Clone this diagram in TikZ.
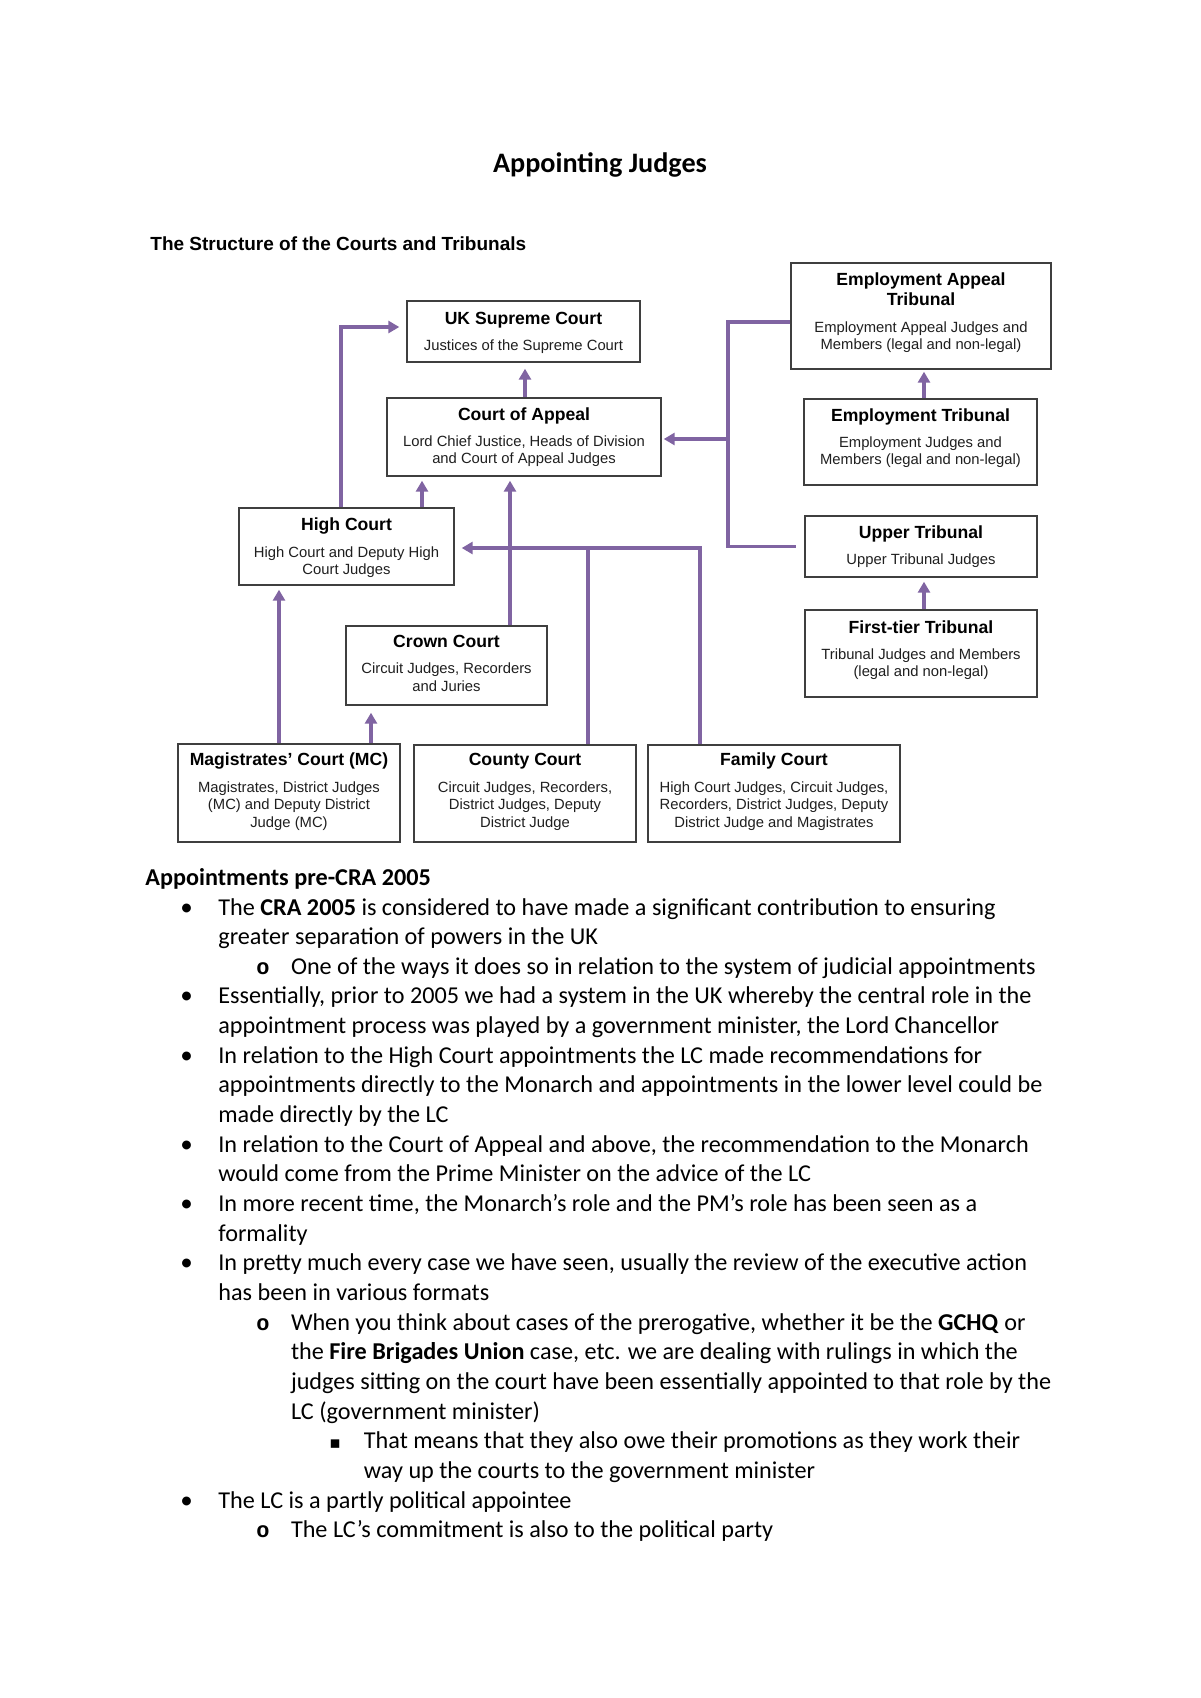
\documentclass[tikz,border=0pt]{standalone}
\usepackage{fontspec}
\setmainfont{Carlito}
\newfontfamily\arialf{Liberation Sans}
\newfontfamily\courf{Liberation Mono}
\newfontfamily\dejaf{DejaVu Sans}
\usetikzlibrary{arrows.meta,fit}
\definecolor{pur}{HTML}{8064A2}
\definecolor{boxc}{HTML}{3F3F3F}
\newcommand\bodyfont{\fontsize{12.1}{14.8}\selectfont}
\begin{document}
\begin{tikzpicture}[x=0.5pt,y=-0.5pt,
  box/.style={draw=boxc, line width=0.7pt, inner sep=0pt},
  ttl/.style={anchor=base, inner sep=0pt, font=\arialf\bfseries\fontsize{8.8}{10}\selectfont},
  sub/.style={anchor=base, inner sep=0pt, text=black!88, font=\arialf\fontsize{7.4}{8.6}\selectfont},
  conn/.style={draw=pur, line width=1.9pt},
  arr/.style={conn, -{Triangle[width=6pt,length=5.5pt]}},
  body/.style={anchor=base west, inner sep=0pt, font=\bodyfont},
  blta/.style={anchor=base west, inner sep=0pt, font=\fontsize{12.5}{14}\selectfont},
  bltb/.style={anchor=base west, inner sep=0pt, font=\courf\bfseries\fontsize{11}{14}\selectfont},
  bltc/.style={anchor=base west, inner sep=0pt, font=\dejaf\fontsize{8.5}{14}\selectfont}
]
\fill[white] (0,0) rectangle (1200,1698);
\useasboundingbox (0,0) rectangle (1200,1698);

% page title
\node[anchor=base, inner sep=0pt, font=\bfseries\fontsize{14.1}{16}\selectfont] (ptitle) at (600,172) {Appointing Judges};
\node[anchor=base west, inner sep=0pt, font=\arialf\bfseries\fontsize{9.5}{11}\selectfont] (dtitle) at (150,250) {The Structure of the Courts and Tribunals};

% boxes
\node[box, fit={(407,301) (640,362)}] (uksc) {};
\node[box, fit={(387,398) (661,476)}] (coa) {};
\node[box, fit={(239,508) (454,585)}] (hc) {};
\node[box, fit={(346,626) (547,705)}] (crown) {};
\node[box, fit={(178,744) (400,842)}] (mc) {};
\node[box, fit={(414,745) (636,842)}] (county) {};
\node[box, fit={(648,745) (900,842)}] (family) {};
\node[box, fit={(791,263) (1051,369)}] (eat) {};
\node[box, fit={(804,399) (1037,485)}] (et) {};
\node[box, fit={(805,516) (1037,577)}] (ut) {};
\node[box, fit={(805,610) (1037,697)}] (ftt) {};

% connectors
\draw[arr, shorten >=3.5pt] (341,0 |- hc.north) |- (uksc.west |- 0,327);
\draw[arr, shorten >=3pt] (coa.north -| 525,0) -- (uksc.south -| 525,0);
\draw[arr, shorten >=2pt] (hc.north -| 422,0) -- (coa.south -| 422,0);
\draw[arr, shorten >=2pt] (crown.north -| 510,0) -- (coa.south -| 510,0);
\draw[arr, shorten >=3.5pt] (county.north -| 588,0) |- (hc.east |- 0,548);
\coordinate (jc) at (588,548);
\draw[conn] (family.north -| 700,0) |- (jc);
\draw[arr, shorten >=2pt] (mc.north -| 279,0) -- (hc.south -| 279,0);
\draw[arr, shorten >=3.5pt] (mc.north -| 371,0) -- (crown.south -| 371,0);
\coordinate (tj) at (728,439);
\draw[conn] (eat.west |- 0,322) -| (tj) |- ([xshift=-4pt]ut.west);
\draw[arr, shorten >=1pt] (tj) -- (tj -| coa.east);
\draw[arr, shorten >=1pt] (et.north -| 924,0) -- (eat.south -| 924,0);
\draw[arr, shorten >=2pt] (ftt.north -| 924,0) -- (ut.south -| 924,0);

% box texts
\node[ttl] (uksc1) at (523.5,324) {UK Supreme Court};
\node[sub] (uksc2) at (523.5,350) {Justices of the Supreme Court};
\node[ttl] (coa1) at (524,420) {Court of Appeal};
\node[sub] (coa2) at (524,446) {Lord Chief Justice, Heads of Division};
\node[sub] (coa3) at (524,463) {and Court of Appeal Judges};
\node[ttl] (hc1) at (346.5,530) {High Court};
\node[sub] (hc2) at (346.5,557) {High Court and Deputy High};
\node[sub] (hc3) at (346.5,574) {Court Judges};
\node[ttl] (cr1) at (446.5,647) {Crown Court};
\node[sub] (cr2) at (446.5,673) {Circuit Judges, Recorders};
\node[sub] (cr3) at (446.5,691) {and Juries};
\node[ttl] (mc1) at (289,765) {Magistrates’ Court (MC)};
\node[sub] (mc2) at (289,792) {Magistrates, District Judges};
\node[sub] (mc3) at (289,809.5) {(MC) and Deputy District};
\node[sub] (mc4) at (289,827) {Judge (MC)};
\node[ttl] (cc1) at (525,765) {County Court};
\node[sub] (cc2) at (525,792) {Circuit Judges, Recorders,};
\node[sub] (cc3) at (525,809.5) {District Judges, Deputy};
\node[sub] (cc4) at (525,827) {District Judge};
\node[ttl] (fc1) at (774,765) {Family Court};
\node[sub] (fc2) at (774,792) {High Court Judges, Circuit Judges,};
\node[sub] (fc3) at (774,809.5) {Recorders, District Judges, Deputy};
\node[sub] (fc4) at (774,827) {District Judge and Magistrates};
\node[ttl] (eat1) at (921,285) {Employment Appeal};
\node[ttl] (eat2) at (921,305) {Tribunal};
\node[sub] (eat3) at (921,332) {Employment Appeal Judges and};
\node[sub] (eat4) at (921,349) {Members (legal and non-legal)};
\node[ttl] (et1) at (920.5,421) {Employment Tribunal};
\node[sub] (et2) at (920.5,447) {Employment Judges and};
\node[sub] (et3) at (920.5,464) {Members (legal and non-legal)};
\node[ttl] (ut1) at (921,538) {Upper Tribunal};
\node[sub] (ut2) at (921,564) {Upper Tribunal Judges};
\node[ttl] (ft1) at (921,633) {First-tier Tribunal};
\node[sub] (ft2) at (921,659) {Tribunal Judges and Members};
\node[sub] (ft3) at (921,676) {(legal and non-legal)};

% body text
\node[body, font=\bodyfont\bfseries] (h1) at (145,885.35) {Appointments pre-CRA 2005};
\node[blta] (bu0) at (180,915) {•};
\node[body] (l0) at (218,915) {The \textbf{CRA 2005} is considered to have made a significant contribution to ensuring};
\node[body] (l1) at (218,944.65) {greater separation of powers in the UK};
\node[bltb] (bu2) at (256,974.3) {o};
\node[body] (l2) at (290.6,974.3) {One of the ways it does so in relation to the system of judicial appointments};
\node[blta] (bu3) at (180,1003.95) {•};
\node[body] (l3) at (218,1003.95) {Essentially, prior to 2005 we had a system in the UK whereby the central role in the};
\node[body] (l4) at (218,1033.6) {appointment process was played by a government minister, the Lord Chancellor};
\node[blta] (bu5) at (180,1063.25) {•};
\node[body] (l5) at (218,1063.25) {In relation to the High Court appointments the LC made recommendations for};
\node[body] (l6) at (218,1092.9) {appointments directly to the Monarch and appointments in the lower level could be};
\node[body] (l7) at (218,1122.55) {made directly by the LC};
\node[blta] (bu8) at (180,1152.2) {•};
\node[body] (l8) at (218,1152.2) {In relation to the Court of Appeal and above, the recommendation to the Monarch};
\node[body] (l9) at (218,1181.85) {would come from the Prime Minister on the advice of the LC};
\node[blta] (bu10) at (180,1211.5) {•};
\node[body] (l10) at (218,1211.5) {In more recent time, the Monarch’s role and the PM’s role has been seen as a};
\node[body] (l11) at (218,1241.15) {formality};
\node[blta] (bu12) at (180,1270.8) {•};
\node[body] (l12) at (218,1270.8) {In pretty much every case we have seen, usually the review of the executive action};
\node[body] (l13) at (218,1300.45) {has been in various formats};
\node[bltb] (bu14) at (256,1330.1) {o};
\node[body] (l14) at (290.6,1330.1) {When you think about cases of the prerogative, whether it be the \textbf{GCHQ} or};
\node[body] (l15) at (290.6,1359.75) {the \textbf{Fire Brigades Union} case, etc. we are dealing with rulings in which the};
\node[body] (l16) at (290.6,1389.4) {judges sitting on the court have been essentially appointed to that role by the};
\node[body] (l17) at (290.6,1419.05) {LC (government minister)};
\node[bltc] (bu18) at (329,1448.7) {▪};
\node[body] (l18) at (363.5,1448.7) {That means that they also owe their promotions as they work their};
\node[body] (l19) at (363.5,1478.35) {way up the courts to the government minister};
\node[blta] (bu20) at (180,1508) {•};
\node[body] (l20) at (218,1508) {The LC is a partly political appointee};
\node[bltb] (bu21) at (256,1537.65) {o};
\node[body] (l21) at (290.6,1537.65) {The LC’s commitment is also to the political party};
\end{tikzpicture}
\end{document}
